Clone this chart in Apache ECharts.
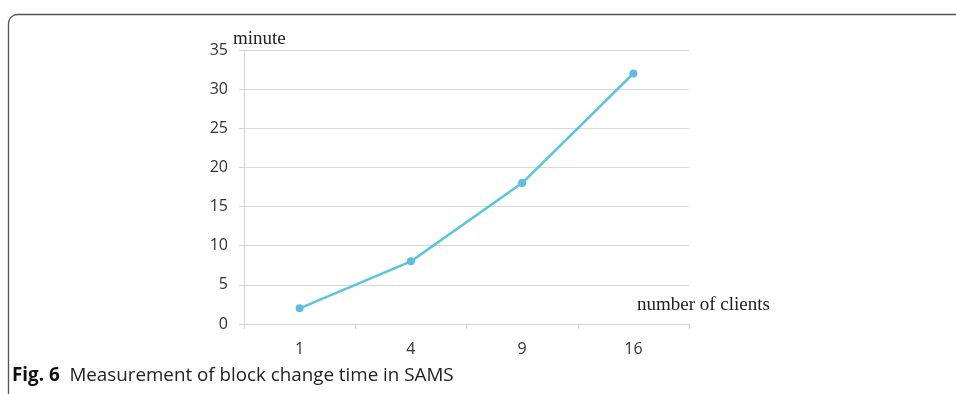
<!DOCTYPE html>
<html>
<head>
<meta charset="utf-8">
<script src="https://cdn.jsdelivr.net/npm/echarts@6/dist/echarts.min.js"></script>
<style>html,body{margin:0;padding:0;background:#fff}#c{width:956px;height:394px}</style>
</head>
<body>
<div id="c"></div>
<script>
var categories = ['1', '4', '9', '16'];
var minutes = [2, 8, 18, 32];
var yTicks = [0, 5, 10, 15, 20, 25, 30, 35];

var chart = echarts.init(document.getElementById('c'));
chart.setOption({
  animation: false,
  grid: {left: 244, right: 267, top: 50, bottom: 70},
  xAxis: {
    type: 'category',
    data: categories,
    boundaryGap: true,
    name: 'number of clients',
    nameLocation: 'end',
    nameGap: 0,
    nameTextStyle: {fontFamily: 'Liberation Serif', fontSize: 19, color: '#222', align: 'left', verticalAlign: 'bottom', padding: [0, 0, 9, -52]},
    axisLine: {lineStyle: {color: '#d4d4d4', width: 1}},
    axisTick: {show: true, length: 5, lineStyle: {color: '#d4d4d4'}},
    axisLabel: {fontFamily: 'Open Sans', fontSize: 16, color: '#333', margin: 17}
  },
  yAxis: {
    type: 'value',
    min: 0, max: 35, interval: 5,
    name: 'minute',
    nameLocation: 'end',
    nameGap: 1,
    nameTextStyle: {fontFamily: 'Liberation Serif', fontSize: 19, color: '#222', align: 'left', padding: [0, 0, 0, -11]},
    axisLine: {show: true, lineStyle: {color: '#d4d4d4', width: 1}},
    axisTick: {show: true, length: 5, lineStyle: {color: '#d4d4d4'}},
    splitLine: {lineStyle: {color: '#d9d9d9', width: 1}},
    axisLabel: {fontFamily: 'Open Sans', fontSize: 16, color: '#333', margin: 16,
      formatter: function (v) { return yTicks.indexOf(v) >= 0 ? String(v) : ''; }}
  },
  series: [{
    type: 'line',
    data: minutes,
    symbol: 'circle',
    symbolSize: 8,
    lineStyle: {color: '#5bc5e0', width: 2.5},
    itemStyle: {color: '#5cbde0'}
  }],
  graphic: [
    {type: 'rect', shape: {x: 8.5, y: 14.5, width: 1100, height: 500, r: 9},
     style: {fill: 'none', stroke: '#555', lineWidth: 1.3}, silent: true},
    {type: 'text', left: 12, top: 366,
     style: {rich: {b: {fontFamily: 'Open Sans', fontWeight: 'bold', fontSize: 18.8, fill: '#111'},
                    n: {fontFamily: 'Open Sans', fontSize: 18.8, fill: '#222'}},
             text: '{b|Fig. 6}{n|  Measurement of block change time in SAMS}'}}
  ]
});
</script>
</body>
</html>
